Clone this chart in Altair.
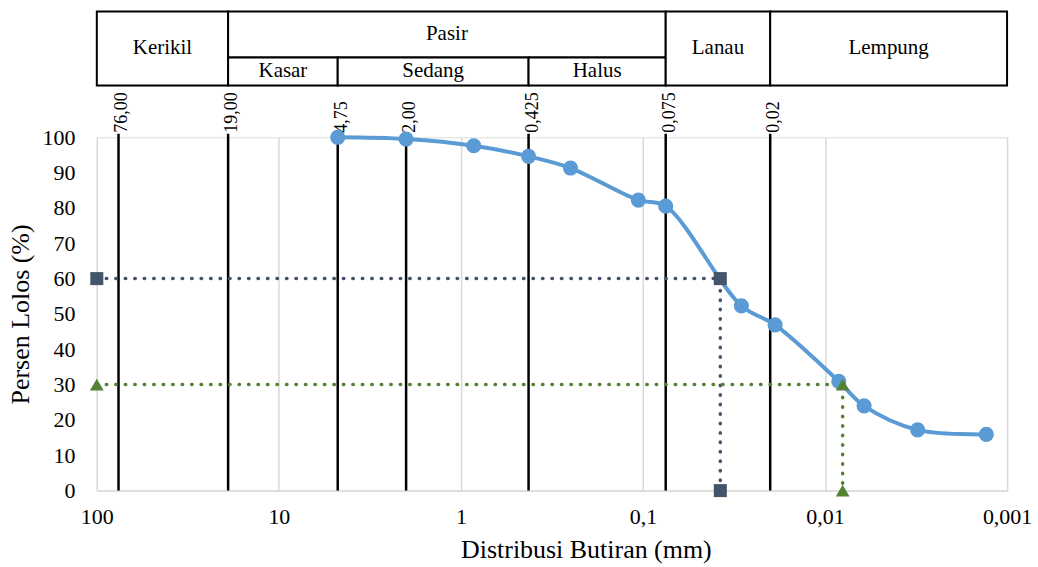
import altair as alt
import pandas as pd

# ---------------- data ----------------
sizes = [4.75, 2.0, 0.85, 0.425, 0.25, 0.106, 0.075, 0.0288, 0.0188, 0.0084, 0.0061, 0.0031, 0.0013]
passing = [100.0, 99.5, 97.6, 94.6, 91.3, 82.2, 80.5, 52.3, 46.9, 30.9, 24.0, 17.2, 15.9]

d60_x = [100, 0.0376, 0.0376]
d60_y = [60, 60, 0]
d30_x = [100, 0.0080, 0.0080]
d30_y = [30, 30, 0]

boundary_values = [76, 19, 4.75, 2.0, 0.425, 0.075, 0.02]
boundary_labels = ["76,00", "19,00", "4,75", "2,00", "0,425", "0,075", "0,02"]

x_ticks = [100, 10, 1, 0.1, 0.01, 0.001]
x_tick_labels = ["100", "10", "1", "0,1", "0,01", "0,001"]
y_ticks = list(range(0, 101, 10))

table_names = ["Kerikil", "Pasir", "Kasar", "Sedang", "Halus", "Lanau", "Lempung"]
table_from = [100, 19, 19, 4.75, 0.425, 0.075, 0.02]
table_to = [19, 0.075, 4.75, 0.425, 0.075, 0.02, 0.001]
table_row = ["full", "top", "sub", "sub", "sub", "full", "full"]

# ---------------- layout / style ----------------
FONT = "Liberation Serif"
W = 912
H = 354
TABLE_H = 74
ROW_SPAN = {"full": (0, 74), "top": (28, 74), "sub": (0, 28)}
LINE_TOP = 101

label_expr = " : ".join(
    f"datum.value == {v} ? '{l}'" for v, l in zip(x_ticks, x_tick_labels)
) + " : ''"

xscale = alt.Scale(type="log", domain=[0.001, 100], reverse=True)
yscale = alt.Scale(domain=[0, 100], nice=False)

x_axis = alt.Axis(
    values=x_ticks, labelExpr=label_expr, grid=True, gridColor="#D9D9D9", gridWidth=1.5,
    ticks=False, tickSize=0, domainColor="#D9D9D9", domainWidth=1.5, labelFlush=False,
    labelFont=FONT, labelFontSize=22, labelColor="black", labelPadding=16,
    title="Distribusi Butiran (mm)", titleFont=FONT, titleFontSize=26,
    titleFontWeight="normal", titleColor="black", titlePadding=9, titleX=490,
)
y_axis = alt.Axis(
    values=y_ticks, grid=False, ticks=False, tickSize=0, domain=False,
    labelFont=FONT, labelFontSize=22, labelColor="black", labelPadding=22,
    title="Persen Lolos (%)", titleFont=FONT, titleFontSize=26,
    titleFontWeight="normal", titleColor="black", titlePadding=8,
)


def X(field):
    return alt.X(f"{field}:Q", scale=xscale, axis=x_axis)


def Y(field):
    return alt.Y(f"{field}:Q", scale=yscale, axis=y_axis)


curve = pd.DataFrame({"x": sizes, "y": passing})
bounds = pd.DataFrame({"x": boundary_values, "label": boundary_labels,
                       "y": [0] * len(boundary_values), "y2": [LINE_TOP] * len(boundary_values)})
d60 = pd.DataFrame({"x": d60_x, "y": d60_y, "o": range(len(d60_x))})
d30 = pd.DataFrame({"x": d30_x, "y": d30_y, "o": range(len(d30_x))})

rules = alt.Chart(bounds).mark_rule(color="black", strokeWidth=2.5).encode(
    x=X("x"), y=Y("y"), y2="y2:Q")
rule_text = alt.Chart(bounds).mark_text(
    angle=270, align="left", baseline="alphabetic", dy=9, dx=1,
    font=FONT, fontSize=18, color="black").encode(
    x=X("x"), y=Y("y2"), text="label:N")

dot60 = alt.Chart(d60).mark_line(color="#44546A", strokeWidth=3.5, strokeDash=[0.5, 9],
                                 strokeCap="round").encode(x=X("x"), y=Y("y"), order="o:Q")
dot30 = alt.Chart(d30).mark_line(color="#548235", strokeWidth=3.5, strokeDash=[0.5, 9],
                                 strokeCap="round").encode(x=X("x"), y=Y("y"), order="o:Q")

line = alt.Chart(curve).mark_line(color="#5B9BD5", strokeWidth=4,
                                  interpolate="catmull-rom").encode(x=X("x"), y=Y("y"))
pts = alt.Chart(curve).mark_circle(color="#5B9BD5", size=230, opacity=1).encode(
    x=X("x"), y=Y("y"))
sq = alt.Chart(d60).mark_point(shape="square", filled=True, size=170, color="#44546A",
                               opacity=1).encode(x=X("x"), y=Y("y"))
tri = alt.Chart(d30).mark_point(shape="triangle-up", filled=True, size=190, color="#548235",
                                opacity=1).encode(x=X("x"), y=Y("y"))

main = alt.layer(rules, rule_text, dot60, dot30, line, pts, sq, tri).properties(width=W, height=H)

# ---------------- classification table ----------------
table = pd.DataFrame({
    "name": table_names, "x0": table_from, "x1": table_to,
    "y0": [ROW_SPAN[r][0] for r in table_row], "y1": [ROW_SPAN[r][1] for r in table_row],
})
tx = alt.X("x0:Q", scale=xscale, axis=None)
ty = alt.Y("y0:Q", scale=alt.Scale(domain=[0, TABLE_H], nice=False), axis=None)
boxes = alt.Chart(table).mark_rect(fill="white", stroke="black", strokeWidth=2).encode(
    x=tx, x2="x1:Q", y=ty, y2="y1:Q")
names = alt.Chart(table).transform_calculate(
    xm="sqrt(datum.x0 * datum.x1)", ym="(datum.y0 + datum.y1) / 2"
).mark_text(font=FONT, fontSize=21, color="black", baseline="middle").encode(
    x=alt.X("xm:Q", scale=xscale, axis=None),
    y=alt.Y("ym:Q", scale=alt.Scale(domain=[0, TABLE_H], nice=False), axis=None),
    text="name:N")
top = alt.layer(boxes, names).properties(width=W, height=TABLE_H)

chart = alt.vconcat(top, main, spacing=52, bounds="flush").resolve_scale(
    x="independent", y="independent"
).properties(
    padding={"left": 7, "top": 9, "right": 5, "bottom": 5}
).configure_view(strokeWidth=0).configure(background="white")

chart.save("out.html", embed_options={"renderer": "svg", "actions": False})
